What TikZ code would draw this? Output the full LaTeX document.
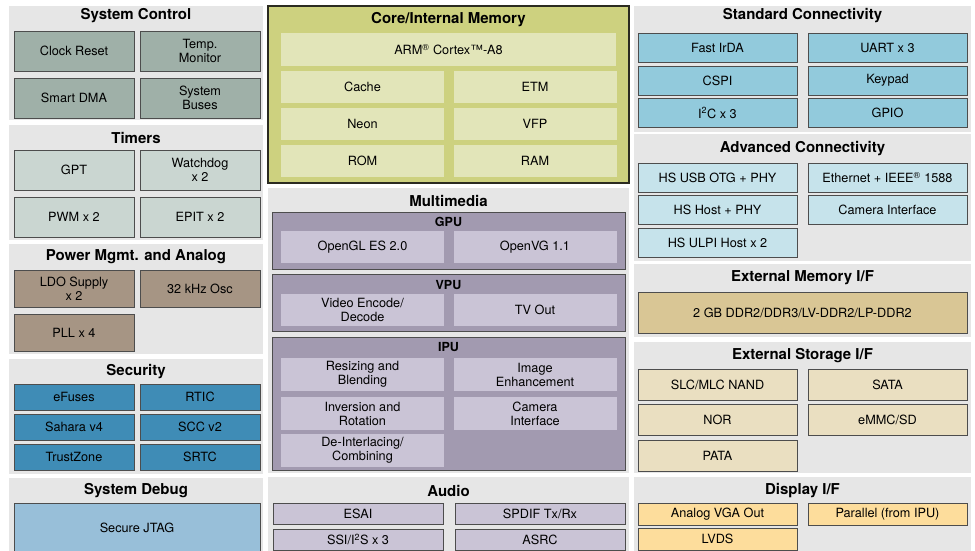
\documentclass[tikz,border=0pt]{standalone}
\usepackage{fontspec}
\setmainfont{TeX Gyre Heros}
\usepackage{xcolor}
\usepackage{tikz}
\usetikzlibrary{positioning}

\definecolor{cPanel}{HTML}{E6E6E6}
\definecolor{cLine}{HTML}{4D4D4D}
\definecolor{cDark}{HTML}{2B2B20}
\definecolor{cCtl}{HTML}{9FB0A8}
\definecolor{cTim}{HTML}{CAD6D1}
\definecolor{cPow}{HTML}{A69584}
\definecolor{cSec}{HTML}{3F8CB6}
\definecolor{cDbg}{HTML}{98BFD9}
\definecolor{cCore}{HTML}{CDD17F}
\definecolor{cCoreIn}{HTML}{E2E5B9}
\definecolor{cMM}{HTML}{A29AB0}
\definecolor{cMMIn}{HTML}{CAC4D6}
\definecolor{cStd}{HTML}{92CADC}
\definecolor{cAdv}{HTML}{C6E3EB}
\definecolor{cMem}{HTML}{D9C695}
\definecolor{cSto}{HTML}{EADFC1}
\definecolor{cDisp}{HTML}{FDDD9C}

\begin{document}
\begin{tikzpicture}[x=1pt,y=-1pt,
		blk/.style={draw=cLine, line width=0.9pt, inner sep=1pt, align=center, font=\fontsize{12.7}{14}\selectfont},
		flat/.style={blk, draw=none},
		bw/.style={minimum width=#1pt},
		bh/.style={minimum height=#1pt},
		ttl/.style={font=\fontsize{15}{17}\selectfont\bfseries},
		sub/.style={font=\fontsize{12.5}{14}\selectfont\bfseries}]
			
			\useasboundingbox (0,0) rectangle (975,550);
			\fill[white] (0,0) rectangle (975,550);
			\clip (0,0) rectangle (975,550);
			
			% cột trái
			\fill[cPanel] (9,6) rectangle (263,120);
			\node[ttl] (t-ctl) at (136,16) {System Control};
			\foreach \y/\na/\ta/\nb/\tb in {51/clk/Clock Reset/temp/{Temp.\\Monitor}, 98/dma/Smart DMA/bus/{System\\Buses}} {
				\node[blk, fill=cCtl, bw=120, bh=40] (\na) at (74,\y) {\ta};
				\node[blk, fill=cCtl, bw=120, bh=40] (\nb) at (200,\y) {\tb};
			}
			
			\fill[cPanel] (9,125) rectangle (263,240);
			\node[ttl] (t-tim) at (136,138) {Timers};
			\foreach \y/\na/\ta/\nb/\tb in {170/gpt/GPT/wdog/{Watchdog\\x 2}, 217/pwm/PWM x 2/epit/EPIT x 2} {
				\node[blk, fill=cTim, bw=120, bh=40] (\na) at (74,\y) {\ta};
				\node[blk, fill=cTim, bw=120, bh=40] (\nb) at (200,\y) {\tb};
			}
			
			\fill[cPanel] (9,244) rectangle (263,354);
			\node[ttl] (t-pow) at (136,257) {Power Mgmt. and Analog};
			\node[blk, fill=cPow, bw=120, bh=37] (ldo) at (74,288.5) {LDO Supply\\x 2};
			\node[blk, fill=cPow, bw=120, bh=37] (osc) at (200,288.5) {32 kHz Osc};
			\node[blk, fill=cPow, bw=120, bh=37] (pll) at (74,332.5) {PLL x 4};
			
			\fill[cPanel] (9,359) rectangle (263,474);
			\node[ttl] (t-sec) at (136,372) {Security};
			\foreach \y/\na/\ta/\nb/\tb in {397/efuse/eFuses/rtic/RTIC, 427/sahara/Sahara v4/scc/SCC v2, 457/tz/TrustZone/srtc/SRTC} {
				\node[blk, fill=cSec, bw=120, bh=26] (\na) at (74,\y) {\ta};
				\node[blk, fill=cSec, bw=120, bh=26] (\nb) at (200,\y) {\tb};
			}
			
			\fill[cPanel] (9,478) rectangle (263,560);
			\node[ttl] (t-dbg) at (136,491) {System Debug};
			\node[blk, fill=cDbg, bw=246, bh=49] (jtag) at (137,527.5) {Secure JTAG};
			
			% cột giữa
			\filldraw[fill=cCore, draw=cDark, line width=1.2pt] (268,6) rectangle (629,183);
			\node[ttl] (t-core) at (448.5,20) {Core/Internal Memory};
			\node[flat, fill=cCoreIn, bw=335, bh=33] (arm) at (448.5,49.5) {ARM\textsuperscript{®} Cortex™-A8};
			\foreach \y/\na/\ta/\nb/\tb in {87/cache/Cache/etm/ETM, 124/neon/Neon/vfp/VFP, 161/rom/ROM/ram/RAM} {
				\node[flat, fill=cCoreIn, bw=163, bh=32] (\na) at (362.5,\y) {\ta};
				\node[flat, fill=cCoreIn, bw=163, bh=32] (\nb) at (535,\y) {\tb};
			}
			
			\fill[cPanel] (268,188) rectangle (629,473);
			\node[ttl] (t-mm) at (448.5,201) {Multimedia};
			\filldraw[fill=cMM, draw=cLine, line width=0.9pt] (272,212) rectangle (625,269);
			\node[sub] (t-gpu) at (448.5,222) {GPU};
			\node[flat, fill=cMMIn, bw=163, bh=32] (ogl) at (362.5,247) {OpenGL ES 2.0};
			\node[flat, fill=cMMIn, bw=163, bh=32] (ovg) at (535,247) {OpenVG 1.1};
			
			\filldraw[fill=cMM, draw=cLine, line width=0.9pt] (272,274) rectangle (625,331);
			\node[sub] (t-vpu) at (448.5,285) {VPU};
			\node[flat, fill=cMMIn, bw=163, bh=32] (venc) at (362.5,310) {Video Encode/\\Decode};
			\node[flat, fill=cMMIn, bw=163, bh=32] (tvout) at (535,310) {TV Out};
			
			\filldraw[fill=cMM, draw=cLine, line width=0.9pt] (272,337) rectangle (625,470);
			\node[sub] (t-ipu) at (448.5,347) {IPU};
			\foreach \y/\na/\ta/\nb/\tb in {374.5/resize/{Resizing and\\Blending}/enh/{Image\\Enhancement}, 413.5/inv/{Inversion and\\Rotation}/cam/{Camera\\Interface}} {
				\node[flat, fill=cMMIn, bw=163, bh=33] (\na) at (362.5,\y) {\ta};
				\node[flat, fill=cMMIn, bw=163, bh=33] (\nb) at (535,\y) {\tb};
			}
			\node[flat, fill=cMMIn, bw=163, bh=33] (deint) at (362.5,450.5) {De-Interlacing/\\Combining};
			
			\fill[cPanel] (268,477) rectangle (629,560);
			\node[ttl] (t-aud) at (448.5,491) {Audio};
			\foreach \y/\na/\ta/\nb/\tb in {513.5/esai/ESAI/spdif/{SPDIF Tx/Rx}, 539.5/ssi/{SSI/I\textsuperscript{2}S x 3}/asrc/ASRC} {
				\node[blk, fill=cMMIn, bw=170, bh=21] (\na) at (358,\y) {\ta};
				\node[blk, fill=cMMIn, bw=170, bh=21] (\nb) at (540,\y) {\tb};
			}
			
			% cột phải
			\fill[cPanel] (634,6) rectangle (971,132);
			\node[ttl] (t-std) at (802.5,16) {Standard Connectivity};
			\foreach \y/\na/\ta/\nb/\tb in {47.5/irda/Fast IrDA/uart/UART x 3, 80.5/cspi/CSPI/kpp/Keypad, 113/i2c/{I\textsuperscript{2}C x 3}/gpio/GPIO} {
				\node[blk, fill=cStd, bw=159, bh=29] (\na) at (717.5,\y) {\ta};
				\node[blk, fill=cStd, bw=159, bh=29] (\nb) at (887.5,\y) {\tb};
			}
			
			\fill[cPanel] (634,134) rectangle (971,261);
			\node[ttl] (t-adv) at (802.5,149) {Advanced Connectivity};
			\foreach \y/\na/\ta/\nb/\tb in {177.5/otg/HS USB OTG + PHY/eth/{Ethernet + IEEE\textsuperscript{®} 1588}, 210/host/HS Host + PHY/csi/Camera Interface} {
				\node[blk, fill=cAdv, bw=159, bh=29] (\na) at (717.5,\y) {\ta};
				\node[blk, fill=cAdv, bw=159, bh=29] (\nb) at (887.5,\y) {\tb};
			}
			\node[blk, fill=cAdv, bw=159, bh=29] (ulpi) at (717.5,242.5) {HS ULPI Host x 2};
			
			\fill[cPanel] (634,264) rectangle (971,337);
			\node[ttl] (t-mem) at (802.5,278) {External Memory I/F};
			\node[blk, fill=cMem, bw=329, bh=41] (ddr) at (802.5,312.5) {2 GB DDR2/DDR3/LV-DDR2/LP-DDR2};
			
			\fill[cPanel] (634,342) rectangle (971,473);
			\node[ttl] (t-sto) at (802.5,356) {External Storage I/F};
			\foreach \y/\na/\ta/\nb/\tb in {384.5/nand/{SLC/MLC NAND}/sata/SATA, 419.5/nor/NOR/emmc/{eMMC/SD}} {
				\node[blk, fill=cSto, bw=159, bh=31] (\na) at (717.5,\y) {\ta};
				\node[blk, fill=cSto, bw=159, bh=31] (\nb) at (887.5,\y) {\tb};
			}
			\node[blk, fill=cSto, bw=159, bh=31] (pata) at (717.5,455.5) {PATA};
			
			\fill[cPanel] (634,477) rectangle (971,560);
			\node[ttl] (t-disp) at (802.5,491) {Display I/F};
			\node[blk, fill=cDisp, bw=159, bh=22] (vga) at (717.5,514) {Analog VGA Out};
			\node[blk, fill=cDisp, bw=159, bh=22] (par) at (887.5,514) {Parallel (from IPU)};
			\node[blk, fill=cDisp, bw=159, bh=22] (lvds) at (717.5,539) {LVDS};
		\end{tikzpicture}
\end{document}
